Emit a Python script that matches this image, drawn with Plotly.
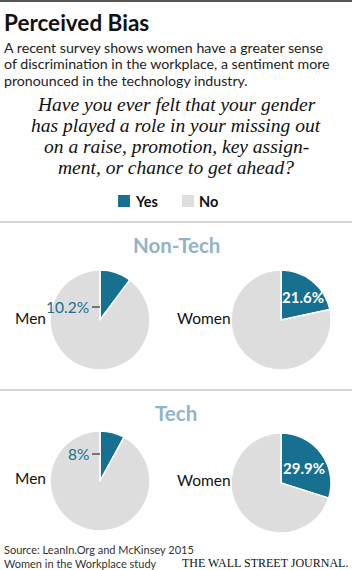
import plotly.graph_objects as go

W, H = 352, 570

groups = ["Non-Tech", "Non-Tech", "Tech", "Tech"]
genders = ["Men", "Women", "Men", "Women"]
yes_pct = [10.2, 21.6, 8.0, 29.9]
yes_labels = ["10.2%", "21.6%", "8%", "29.9%"]
categories = ["Yes", "No"]

TEAL = "#17708f"
GRAY = "#dddddd"
HEAD = "#8fb4ca"

# layout (pixel) positions of each pie: center x, center y, radius
pie_pos = [(100, 320, 50), (281, 320, 50), (100, 481, 50), (281, 483, 50)]

def px(x):
    return x / W

def py(y):
    return 1 - y / H

fig = go.Figure()
for i, (cx, cy, r) in enumerate(pie_pos):
    v = yes_pct[i]
    fig.add_trace(go.Pie(
        labels=categories,
        values=[v, 100 - v],
        sort=False,
        direction="clockwise",
        rotation=0,
        marker=dict(colors=[TEAL, GRAY], line=dict(color="white", width=1.5)),
        textinfo="none",
        hoverinfo="label+percent",
        domain=dict(x=[px(cx - r), px(cx + r)], y=[py(cy + r), py(cy - r)]),
        showlegend=False,
    ))

SANS = "Lato"
ann = []
shapes = []

def A(text, x, y, size, color="#222", xanchor="left", font=SANS, bold=False, italic=False):
    t = f"<b>{text}</b>" if bold else text
    if italic:
        t = f"<i>{t}</i>"
    ann.append(dict(text=t, x=px(x), y=py(y), xref="paper", yref="paper",
                    xanchor=xanchor, yanchor="middle", showarrow=False,
                    font=dict(family=font, size=size, color=color)))

# top rule
shapes.append(dict(type="line", xref="paper", yref="paper", x0=0, x1=1, y0=py(1), y1=py(1),
                   line=dict(color="#555", width=2)))

A("Perceived Bias", 2, 22, 22.5, "#111", bold=True)
sub = ["A recent survey shows women have a greater sense",
       "of discrimination in the workplace, a sentiment more",
       "pronounced in the technology industry."]
for k, s in enumerate(sub):
    A(s, 2, 47 + k * 16.5, 14.2, "#222")

q = ["Have you ever felt that your gender",
     "has played a role in your missing out",
     "on a raise, promotion, key assign-",
     "ment, or chance to get ahead?"]
for k, s in enumerate(q):
    A(s, 176, 104 + k * 21, 19.5, "#111", xanchor="center", font="Liberation Serif", italic=True)

# legend
for cat, col, bx in [("Yes", TEAL, 118), ("No", GRAY, 182)]:
    shapes.append(dict(type="rect", xref="paper", yref="paper", x0=px(bx), x1=px(bx + 12),
                       y0=py(207), y1=py(195), fillcolor=col, line=dict(width=0)))
    A(cat, bx + 15, 201, 14.5, "#111", bold=True)

# separators
for yy in [222, 390]:
    shapes.append(dict(type="line", xref="paper", yref="paper", x0=0, x1=1, y0=py(yy), y1=py(yy),
                       line=dict(color="#c4c4c4", width=1.5)))

A("Non-Tech", 176, 245, 20.5, HEAD, xanchor="center", bold=True)
A("Tech", 176, 413, 20.5, HEAD, xanchor="center", bold=True)

# gender labels
lab_pos = [(13, 318), (175, 318), (13, 478), (175, 480)]
for i, (lx, ly) in enumerate(lab_pos):
    A(genders[i], lx, ly, 15.5, "#111")

# outside labels (men) with leader lines
out_pos = {0: 307, 2: 454}
for i, ly in out_pos.items():
    A(yes_labels[i], 91, ly, 15.5, TEAL, xanchor="right")
    shapes.append(dict(type="line", xref="paper", yref="paper", x0=px(92), x1=px(100),
                       y0=py(ly), y1=py(ly), line=dict(color="#333", width=1.2)))

# inside labels (women)
in_pos = {1: (303, 297), 3: (304, 468)}
for i, (lx, ly) in in_pos.items():
    A(yes_labels[i], lx, ly, 15, "white", xanchor="center", bold=True)

A("Source: LeanIn.Org and McKinsey 2015", 2, 549, 11, "#333")
A("Women in the Workplace study", 2, 563, 11, "#333")
A("THE WALL STREET JOURNAL.", 350, 563, 12, "#111", xanchor="right", font="Liberation Serif")

fig.update_layout(width=W, height=H, margin=dict(l=0, r=0, t=0, b=0),
                  paper_bgcolor="white", plot_bgcolor="white",
                  annotations=ann, shapes=shapes, showlegend=False)

fig.write_html("out.html")
